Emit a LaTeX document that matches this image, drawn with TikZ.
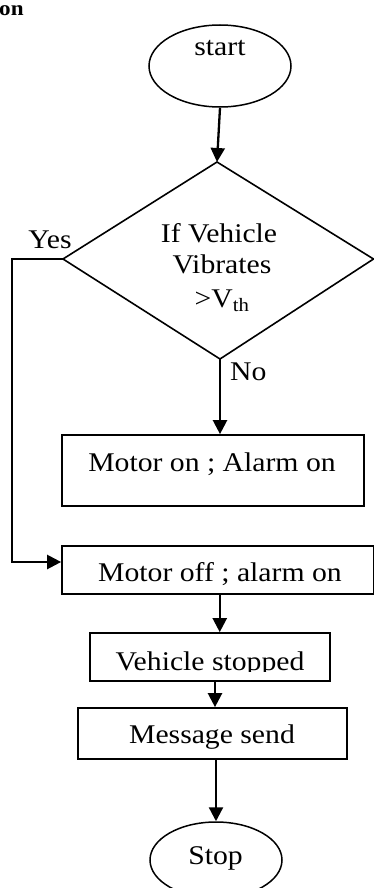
\documentclass[tikz,border=0pt]{standalone}
\usepackage{fontspec}
\setmainfont{Liberation Serif}[FakeStretch=1.1]
\usetikzlibrary{shapes.geometric,arrows.meta}
\begin{document}
\begin{tikzpicture}[x=1pt,y=-1pt,
  txt/.style={font=\fontsize{27}{31}\selectfont, inner sep=0pt, anchor=base},
  boxn/.style={draw, line width=1.7pt, rectangle, inner sep=0pt},
  oval/.style={draw, line width=1.5pt, ellipse, inner sep=0pt},
  arr/.style={line width=2.3pt, -{Triangle[length=14pt,width=14pt]}}]
\useasboundingbox (0,0) rectangle (374,888);

% title fragment
\node[font=\bfseries\fontsize{21}{24}\selectfont, anchor=base west, inner sep=0pt] (title) at (-1,16) {on};

% start
\node[oval, minimum width=142pt, minimum height=82pt] (start) at (220,66) {};
\node[txt] (starttxt) at (220,56) {start};

% decision diamond
\coordinate (dt) at (217,162);
\coordinate (dr) at (373.5,259);
\coordinate (db) at (220,359);
\coordinate (dl) at (63,259);
\draw[line width=1.6pt, line join=miter] (dt) -- (dr) -- (db) -- (dl) -- cycle;
\node[txt] (q1) at (219,242) {If Vehicle};
\node[txt] (q2) at (222,273) {Vibrates};
\node[txt] (q3) at (222,307) {>V\textsubscript{th}};

\node[txt] (yes) at (50,248) {Yes};
\node[txt, anchor=base west] (no) at (230,380) {No};

% boxes
\node[boxn, minimum width=302pt, minimum height=71pt] (mon) at (213,470.5) {};
\node[txt] (montxt) at (212,471) {Motor on ; Alarm on};

\node[boxn, minimum width=311.5pt, minimum height=48pt] (moff) at (217.75,570) {};
\node[txt] (mofftxt) at (220,581) {Motor off ; alarm on};

\node[boxn, minimum width=240pt, minimum height=48pt] (vs) at (210,657) {};
\begin{scope}
\clip (90,633) rectangle (330,671);
\node[txt] (vstxt) at (210,670) {Vehicle stopped};
\end{scope}

\node[boxn, minimum width=269pt, minimum height=51pt] (ms) at (212.5,733.5) {};
\node[txt] (mstxt) at (212,743) {Message send};

\node[oval, minimum width=132pt, minimum height=76pt] (stop) at (216,860) {};
\node[txt] (stoptxt) at (215.5,864) {Stop};

% connectors
\coordinate (ycorner) at (12,259);
\draw[arr] (start.south) -- (dt);
\draw[arr] (dl) -- (ycorner) |- ([yshift=8pt]moff.west);
\draw[arr] (db) -- (db |- mon.north);
\draw[arr] ([xshift=2pt]moff.south) -- ([xshift=2pt]moff.south |- vs.north);
\draw[arr] ([xshift=5pt]vs.south) -- ([xshift=5pt]vs.south |- ms.north);
\draw[arr] (ms.south -| stop.north) -- (stop.north);
\end{tikzpicture}
\end{document}
